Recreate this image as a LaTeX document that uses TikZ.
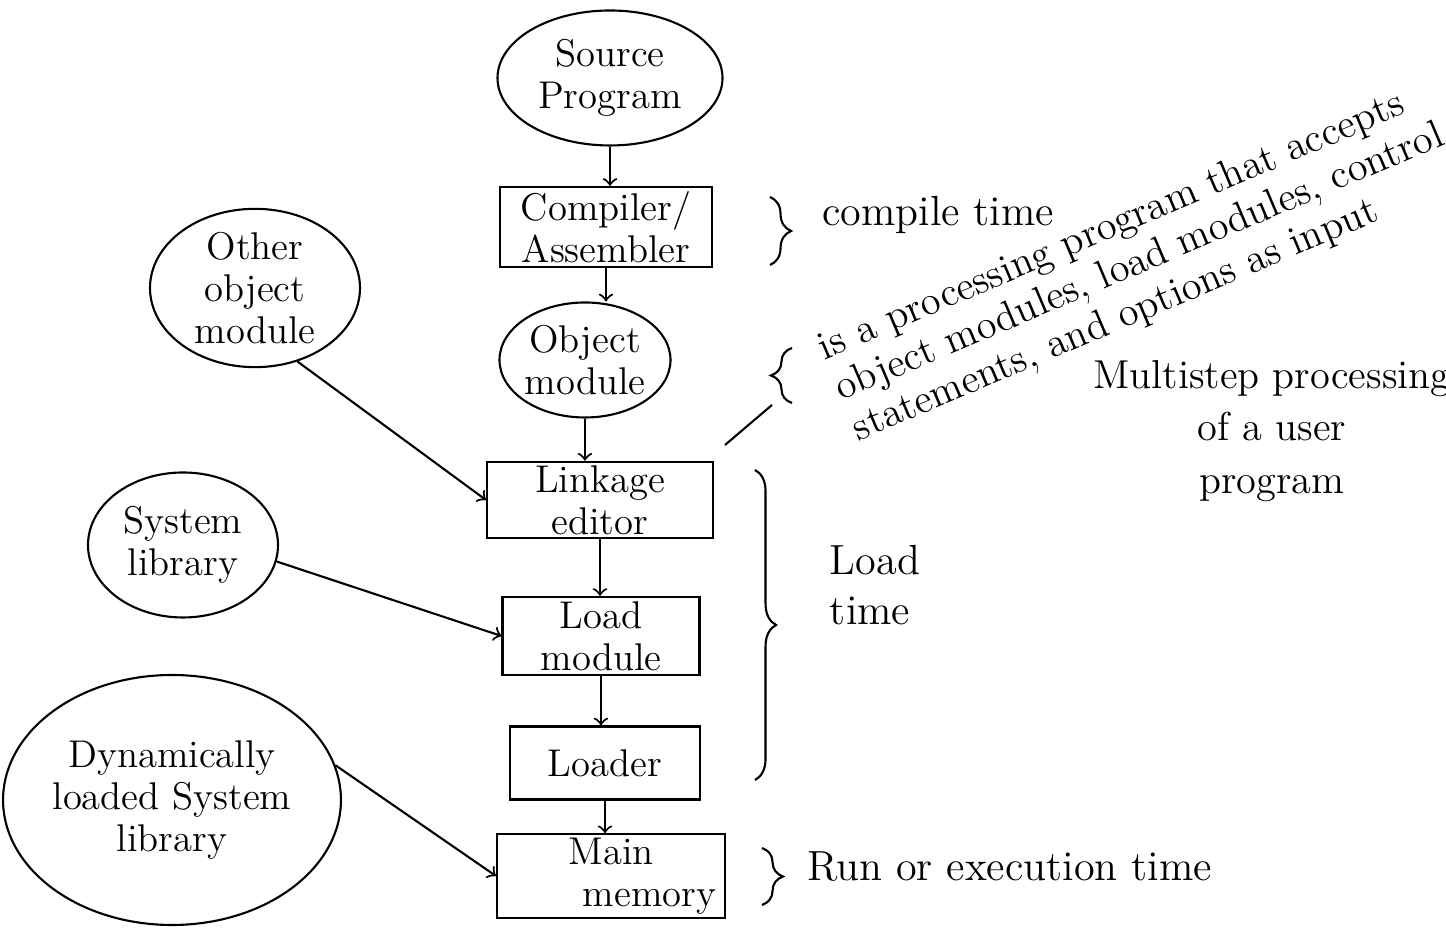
\documentclass[tikz,border=0pt]{standalone}
\usepackage{tikz}
\usetikzlibrary{shapes.geometric, arrows, positioning, decorations.pathreplacing}
\tikzstyle{stage} = [rectangle, draw=black, semithick, text centered, align=center, inner sep=1pt, font=\fontsize{11}{12}\selectfont]
\tikzstyle{file} = [ellipse, draw=black, semithick, align=center, inner sep=0pt, font=\fontsize{11}{12}\selectfont]
\tikzstyle{note} = [align=left, font=\large]
\tikzstyle{arrow} = [semithick,->,>=to]
\tikzstyle{bracket} = [semithick, decorate, decoration={brace, amplitude=6pt}]

\begin{document}
\begin{tikzpicture}
\useasboundingbox (0,0) rectangle (14.46,9.33);

% Main steps
\node (source) [file, minimum width=2.25cm, minimum height=1.35cm] at (6.10,8.55) {Source\\Program};
\node (compiler) [stage, minimum width=2.12cm, minimum height=0.8cm] at (6.06,7.06) {Compiler/\\Assembler};
\node (objmod) [file, minimum width=1.7cm, minimum height=1.15cm] at (5.85,5.73) {Object\\module};
\node (linker) [stage, minimum width=2.26cm, minimum height=0.76cm] at (6.00,4.33) {Linkage\\editor};
\node (loadmod) [stage, minimum width=1.97cm, minimum height=0.78cm] at (6.01,2.97) {Load\\module};
\node (loader) [stage, minimum width=1.9cm, minimum height=0.73cm] at (6.05,1.70) {Loader};
\node (memory) [stage, minimum width=2.28cm, minimum height=0.68cm] at (6.11,0.57) {Main\\\quad\quad memory};

% Inputs on the left
\node (otherobj) [file, minimum width=2.1cm, minimum height=1.35cm] at (2.55,6.45) {Other\\object\\module};
\node (syslib) [file, minimum width=1.9cm, minimum height=1.45cm] at (1.83,3.88) {System\\library};
\node (dynlib) [file, minimum width=3.07cm, minimum height=2.5cm] at (1.72,1.33) {Dynamically\\loaded System\\library};

% Arrows
\draw [arrow] (source.south) -- (source.south |- compiler.north);
\draw [arrow] (compiler.south) -- (compiler.south |- objmod.north);
\draw [arrow] (objmod.south) -- (objmod.south |- linker.north);
\draw [arrow] (linker.south) -- (linker.south |- loadmod.north);
\draw [arrow] (loadmod.south) -- (loadmod.south |- loader.north);
\draw [arrow] (loader.south) -- (loader.south |- memory.north);

\draw [arrow] (otherobj.-60) -- (linker.west);
\draw [arrow] (syslib.-10) -- (loadmod.west);
\draw [arrow] (dynlib.12) -- (memory.west);

% Time brackets
\draw [bracket] (7.70,7.36) -- (7.70,6.68);
\node (compiletime) [note, anchor=west] at (8.10,7.18) {compile time};

\draw [bracket] (7.55,4.63) -- (7.55,1.53);
\node (loadtime) [note] at (8.75,3.48) {Load\\time};

\draw [bracket] (7.62,0.85) -- (7.62,0.28);
\node (runtime) [note, anchor=west] at (7.95,0.66) {Run or execution time};

% Linkage editor remark
\coordinate (linkcorner) at (7.25,4.88);
\coordinate (remarkbrace) at (7.72,5.28);
\draw [semithick] (linkcorner) -- (remarkbrace);
\draw [bracket] (7.92,5.30) -- (7.92,5.85);
\node (remark) [align=left, font=\fontsize{11.5}{12.5}\selectfont, rotate=23] at (11.40,6.70) {is a processing program that accepts\\object modules, load modules, control\\statements, and options as input};

\node (caption) [align=center, font=\fontsize{11.5}{15}\selectfont] at (12.72,5.02) {Multistep processing\\of a user\\program};

\end{tikzpicture}
\end{document}
